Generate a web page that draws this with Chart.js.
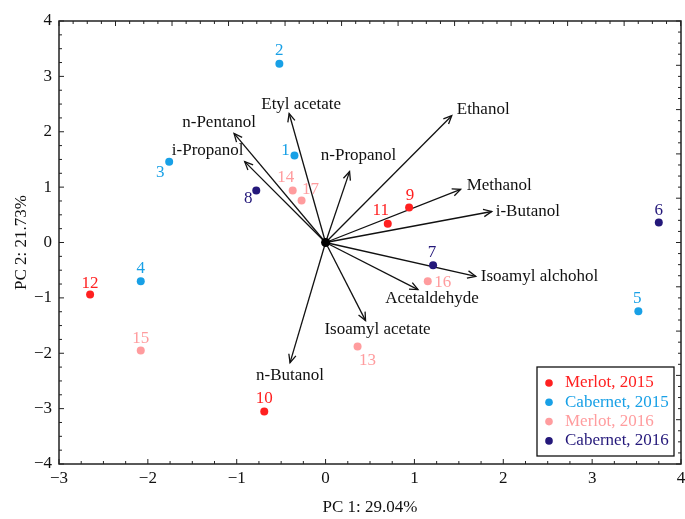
<!DOCTYPE html>
<html>
<head>
<meta charset="utf-8">
<script src="https://cdn.jsdelivr.net/npm/chart.js@4.4.0/dist/chart.umd.min.js"></script>
<style>
  html, body { margin: 0; padding: 0; background: #fff; overflow: hidden; }
  #pcaChart { display: block; }
</style>
</head>
<body>
<canvas id="pcaChart" width="685" height="519" style="width:685px;height:519px"></canvas>
<script>
    // sample scores (PC1, PC2)
    const sampleIds = ['1', '2', '3', '4', '5', '6', '7', '8', '9', '10', '11', '12', '13', '14', '15', '16', '17'];
    const pc1 = [-0.35, -0.52, -1.76, -2.08, 3.52, 3.75, 1.21, -0.78, 0.94, -0.69, 0.70, -2.65, 0.36, -0.37, -2.08, 1.15, -0.27];
    const pc2 = [1.57, 3.23, 1.46, -0.70, -1.24, 0.36, -0.41, 0.94, 0.63, -3.05, 0.34, -0.94, -1.88, 0.94, -1.95, -0.70, 0.76];
    const sampleGroup = [1, 1, 1, 1, 1, 3, 3, 3, 0, 0, 0, 0, 2, 2, 2, 2, 2];

    const groupNames = ['Merlot, 2015', 'Cabernet, 2015', 'Merlot, 2016', 'Cabernet, 2016'];

    // variable loadings (arrow tips)
    const variables = ['Ethanol', 'Methanol', 'i-Butanol', 'n-Propanol', 'Etyl acetate', 'n-Pentanol',
        'i-Propanol', 'Isoamyl alchohol', 'Acetaldehyde', 'Isoamyl acetate', 'n-Butanol'];
    const loadX = [1.42, 1.52, 1.87, 0.27, -0.41, -1.03, -0.91, 1.69, 1.04, 0.45, -0.40];
    const loadY = [2.29, 0.96, 0.56, 1.28, 2.33, 1.97, 1.46, -0.61, -0.85, -1.41, -2.17];

    const xTicks = [-3, -2, -1, 0, 1, 2, 3, 4];
    const yTicks = [-4, -3, -2, -1, 0, 1, 2, 3, 4];

    // styling
    const groupColors = ['#ff2020', '#18a0e6', '#ff9c9e', '#24187a'];
    const serif = "'Liberation Serif', 'Times New Roman', serif";
    // [align, dx, dy] of each variable name relative to its arrow tip
    const varLabelPos = [
        ['left', 5, -6], ['left', 6, -4], ['left', 4, 0], ['center', 9, -16],
        ['center', 12, -9], ['center', -15, -11], ['center', -37, -11], ['left', 5, 0],
        ['center', 14, 9], ['center', 12, 9], ['center', 0, 13]
    ];
    // [dx, dy] of each sample number relative to its point
    const numLabelPos = [
        [-9, -5], [0, -13], [-9, 11], [0, -13], [-1, -13], [0, -12], [-1, -13], [-8, 8], [1, -12],
        [0, -13], [-7, -13], [0, -11], [10, 14], [-7, -13], [0, -12], [15, 1], [9, -11]
    ];

    const minus = v => String(v).replace('-', '\u2212');
    const lastX = xTicks[xTicks.length - 1];

    const datasets = [];
    groupNames.forEach((name, g) => {
        const pts = [];
        sampleIds.forEach((id, i) => {
            if (sampleGroup[i] === g) pts.push({ x: pc1[i], y: pc2[i] });
        });
        datasets.push({
            type: 'scatter',
            label: name,
            data: pts,
            backgroundColor: groupColors[g],
            borderColor: groupColors[g],
            pointRadius: 4,
            borderWidth: 0,
            order: 1
        });
    });
    variables.forEach((name, i) => {
        datasets.push({
            type: 'line',
            label: name,
            data: [{ x: 0, y: 0 }, { x: loadX[i], y: loadY[i] }],
            borderColor: '#111',
            borderWidth: 1.3,
            pointRadius: 0,
            fill: false,
            order: 2
        });
    });
    datasets.push({
        type: 'scatter',
        label: 'origin',
        data: [{ x: 0, y: 0 }],
        backgroundColor: '#000',
        pointRadius: 4.5,
        borderWidth: 0,
        order: 0
    });

    function drawTicks(ctx, scale, horizontal, edge, step, majorEvery, dir) {
        const n = Math.round((scale.max - scale.min) / step);
        for (let k = 0; k <= n; k++) {
            const v = scale.min + k * step;
            const p = scale.getPixelForValue(v);
            const len = (k % majorEvery === 0) ? 5 : 3;
            ctx.beginPath();
            if (horizontal) {
                ctx.moveTo(p, edge);
                ctx.lineTo(p, edge + dir * len);
            } else {
                ctx.moveTo(edge, p);
                ctx.lineTo(edge + dir * len, p);
            }
            ctx.stroke();
        }
    }

    const biplotExtras = {
        id: 'biplotExtras',
        afterDatasetsDraw(chart) {
            const { ctx, chartArea: a, scales: { x, y } } = chart;
            ctx.save();
            // arrow heads + variable names
            ctx.strokeStyle = '#111';
            ctx.lineWidth = 1.3;
            ctx.fillStyle = '#111';
            ctx.font = '17px ' + serif;
            const x0 = x.getPixelForValue(0), y0 = y.getPixelForValue(0);
            variables.forEach((name, i) => {
                const x1 = x.getPixelForValue(loadX[i]);
                const y1 = y.getPixelForValue(loadY[i]);
                const ang = Math.atan2(y1 - y0, x1 - x0);
                ctx.beginPath();
                ctx.moveTo(x1 - 9 * Math.cos(ang - 0.42), y1 - 9 * Math.sin(ang - 0.42));
                ctx.lineTo(x1, y1);
                ctx.lineTo(x1 - 9 * Math.cos(ang + 0.42), y1 - 9 * Math.sin(ang + 0.42));
                ctx.stroke();
                const [align, dx, dy] = varLabelPos[i];
                ctx.textAlign = align;
                ctx.textBaseline = 'middle';
                ctx.fillText(name, x1 + dx, y1 + dy);
            });
            // sample numbers
            ctx.textAlign = 'center';
            sampleIds.forEach((id, i) => {
                ctx.fillStyle = groupColors[sampleGroup[i]];
                ctx.fillText(id, x.getPixelForValue(pc1[i]) + numLabelPos[i][0],
                    y.getPixelForValue(pc2[i]) + numLabelPos[i][1]);
            });

            // last x tick label sits on the canvas edge (cut, as in the original)
            ctx.fillStyle = '#111';
            let ty = a.bottom + 14, tb = 'middle';
            try {
                const items = x.getLabelItems();
                const it = items[0];
                ty = it.options.translation[1] + it.textOffset;
                tb = it.options.textBaseline;
            } catch (e) {}
            ctx.textBaseline = tb;
            ctx.fillText(String(lastX), x.getPixelForValue(lastX), ty);

            // frame ticks (inward)
            ctx.strokeStyle = '#222';
            ctx.lineWidth = 1;
            drawTicks(ctx, x, true, a.bottom, 0.25, 4, -1);
            drawTicks(ctx, x, true, a.top, 0.159, 4, 1);
            drawTicks(ctx, y, false, a.left, 0.25, 4, 1);
            drawTicks(ctx, y, false, a.right, 0.2, 4, -1);

            // frame
            ctx.strokeStyle = '#222';
            ctx.lineWidth = 1.5;
            ctx.strokeRect(a.left, a.top, a.right - a.left, a.bottom - a.top);

            // legend box
            const lx = 537, ly = 367, lw = 137, lh = 89;
            ctx.fillStyle = '#fff';
            ctx.fillRect(lx, ly, lw, lh);
            ctx.strokeStyle = '#111';
            ctx.lineWidth = 1.3;
            ctx.strokeRect(lx, ly, lw, lh);
            ctx.textAlign = 'left';
            ctx.textBaseline = 'middle';
            groupNames.forEach((name, g) => {
                const ry = ly + 16 + g * 19.3;
                ctx.fillStyle = groupColors[g];
                ctx.beginPath();
                ctx.arc(lx + 12, ry, 3.8, 0, Math.PI * 2);
                ctx.fill();
                ctx.fillText(name, lx + 28, ry);
            });
            ctx.restore();
        }
    };

    Chart.defaults.font.family = serif;
    Chart.defaults.font.size = 17;
    Chart.defaults.color = '#111';

    const myChart = new Chart(document.getElementById('pcaChart'), {
        type: 'scatter',
        data: { datasets: datasets },
        options: {
            responsive: false,
            maintainAspectRatio: false,
            animation: false,
            devicePixelRatio: 1,
            events: [],
            layout: { autoPadding: false, padding: { top: 21, right: 0.5, bottom: 0, left: 0 } },
            plugins: { legend: { display: false }, tooltip: { enabled: false } },
            scales: {
                x: {
                    type: 'linear',
                    min: -3,
                    max: 4,
                    afterBuildTicks: s => { s.ticks = xTicks.map(v => ({ value: v })); },
                    ticks: { callback: v => (v === lastX ? '' : minus(v)), padding: 4, maxRotation: 0 },
                    grid: { display: false, drawTicks: false },
                    border: { display: false },
                    title: { display: true, text: 'PC 1: 29.04%', font: { size: 17 }, padding: { top: 0, bottom: 1 } },
                    afterFit: s => { s.height = 55; }
                },
                y: {
                    type: 'linear',
                    min: -4,
                    max: 4,
                    afterBuildTicks: s => { s.ticks = yTicks.map(v => ({ value: v })); },
                    ticks: { callback: v => minus(v), padding: 7 },
                    grid: { display: false, drawTicks: false },
                    border: { display: false },
                    title: { display: true, text: 'PC 2: 21.73%', font: { size: 17 }, padding: { top: 11, bottom: 0 } },
                    afterFit: s => { s.width = 59; }
                }
            }
        },
        plugins: [biplotExtras]
    });
</script>
</body>
</html>
